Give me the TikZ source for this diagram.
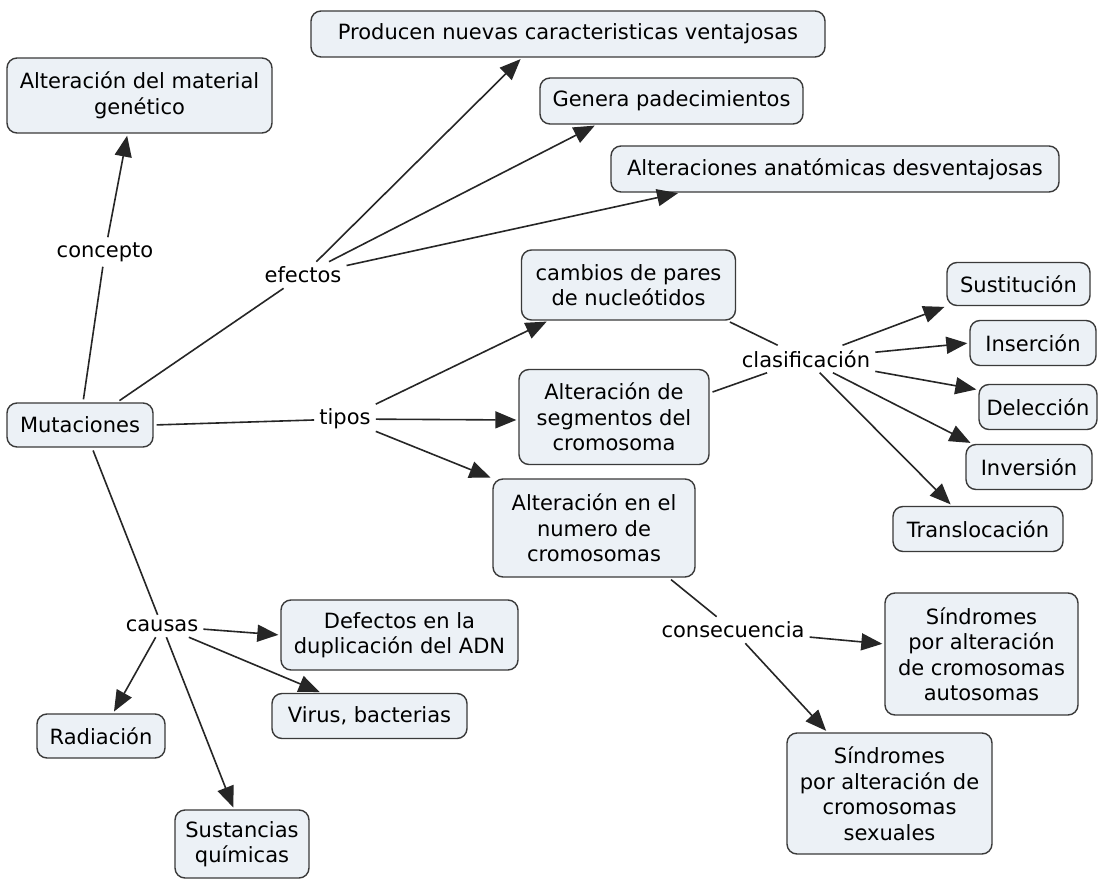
\documentclass[tikz,border=0pt]{standalone}
\usepackage{fontspec}
\setmainfont{DejaVu Sans}
\usetikzlibrary{arrows.meta}
\definecolor{boxfill}{HTML}{ECF1F6}
\definecolor{boxline}{HTML}{3A3A3A}
\definecolor{linkcol}{HTML}{262626}
\begin{document}
\begin{tikzpicture}[x=1pt,y=-1pt,
  concept/.style={draw=boxline, fill=boxfill, line width=1.4pt, rounded corners=10pt,
    align=center, inner sep=0pt, font=\fontsize{21}{25.5}\selectfont},
  lbl/.style={inner sep=5pt, font=\fontsize{21}{24}\selectfont},
  link/.style={draw=linkcol, line width=1.6pt},
  arr/.style={link, -{Triangle[length=21pt,width=17pt]}, shorten >=2pt},
  from/.style={shorten <=3pt}
]
\fill[white] (0,0) rectangle (1103,880);
\useasboundingbox (0,0) rectangle (1103,880);

% concepts
\node[concept, minimum width=265pt, minimum height=75pt] (alt) at (139.5,95.5) {Alteración del material\\genético};
\node[concept, minimum width=514pt, minimum height=46pt] (prod) at (568,34) {Producen nuevas caracteristicas ventajosas};
\node[concept, minimum width=263pt, minimum height=46pt] (gen) at (671.5,101) {Genera padecimientos};
\node[concept, minimum width=448pt, minimum height=46pt] (anat) at (835,169) {Alteraciones anatómicas desventajosas};
\node[concept, minimum width=214pt, minimum height=70pt] (camb) at (628.5,285) {cambios de pares\\de nucleótidos};
\node[concept, minimum width=190pt, minimum height=95pt] (seg) at (614,417) {Alteración de\\segmentos del\\cromosoma};
\node[concept, minimum width=202pt, minimum height=98pt] (num) at (594,528) {Alteración en el\\numero de\\cromosomas};
\node[concept, minimum width=143pt, minimum height=43pt] (sus) at (1018.5,284) {Sustitución};
\node[concept, minimum width=126pt, minimum height=45pt] (ins) at (1033,343) {Inserción};
\node[concept, minimum width=118pt, minimum height=45pt] (del) at (1038,407) {Delección};
\node[concept, minimum width=126pt, minimum height=45pt] (inv) at (1029,467) {Inversión};
\node[concept, minimum width=170pt, minimum height=45pt] (tra) at (978,529) {Translocación};
\node[concept, minimum width=146pt, minimum height=44pt] (mut) at (80,425) {Mutaciones};
\node[concept, minimum width=237pt, minimum height=70pt] (def) at (399.5,635) {Defectos en la\\duplicación del ADN};
\node[concept, minimum width=128pt, minimum height=44pt] (rad) at (101,736) {Radiación};
\node[concept, minimum width=195pt, minimum height=45pt] (vir) at (369.5,716) {Virus, bacterias};
\node[concept, minimum width=134pt, minimum height=68pt] (sust) at (242,844) {Sustancias\\químicas};
\node[concept, minimum width=193pt, minimum height=122pt] (auto) at (981.5,654) {Síndromes\\por alteración\\de cromosomas\\autosomas};
\node[concept, minimum width=205pt, minimum height=121pt] (sex) at (889.5,793.5) {Síndromes\\por alteración de\\cromosomas\\sexuales};

% linking phrases
\node[lbl] (lcon) at (105,252) {concepto};
\node[lbl] (lefe) at (303,275) {efectos};
\node[lbl] (ltip) at (345,419) {tipos};
\node[lbl] (lcla) at (806,359) {clasificación};
\node[lbl] (lcau) at (162,626) {causas};
\node[lbl] (lcons) at (733,630) {consecuencia};

% concepto
\draw[link, from] ([xshift=3pt]mut.north) -- (lcon);
\draw[arr] (lcon) -- ([xshift=-12pt]alt.south);

% efectos
\draw[link, from] ([xshift=37pt]mut.north) -- (lefe);
\draw[arr] (lefe) -- ([xshift=-46pt]prod.south);
\draw[arr] (lefe) -- ([xshift=-75pt]gen.south);
\draw[arr] (lefe) -- ([xshift=-155pt]anat.south);

% tipos
\draw[link, from] (mut.east) -- (ltip);
\draw[arr] (ltip) -- ([xshift=-80pt]camb.south);
\draw[arr] (ltip) -- ([yshift=-3pt]seg.west);
\draw[arr] (ltip) -- (num.north west);

% clasificacion
\draw[link, from] ([xshift=-9pt]camb.south east) -- (lcla);
\draw[link, from] ([yshift=24pt]seg.east) -- (lcla);
\draw[arr] (lcla) -- (sus.south west);
\draw[arr] (lcla) -- (ins.west);
\draw[arr] (lcla) -- ([yshift=-6pt]del.north west);
\draw[arr] (lcla) -- ([xshift=7pt]inv.north west);
\draw[arr] (lcla) -- ([xshift=-26pt]tra.north);

% causas
\draw[link, from] ([xshift=12pt]mut.south) -- (lcau);
\draw[arr] (lcau) -- (def.west);
\draw[arr] (lcau) -- ([xshift=12pt]rad.north);
\draw[arr] (lcau) -- ([xshift=-48pt]vir.north);
\draw[arr] (lcau) -- ([xshift=-8pt]sust.north);

% consecuencia
\draw[link, from] ([xshift=-27pt]num.south east) -- (lcons);
\draw[arr] (lcons) -- ([yshift=10pt]auto.west);
\draw[arr] (lcons) -- ([xshift=-62pt]sex.north);
\end{tikzpicture}
\end{document}
